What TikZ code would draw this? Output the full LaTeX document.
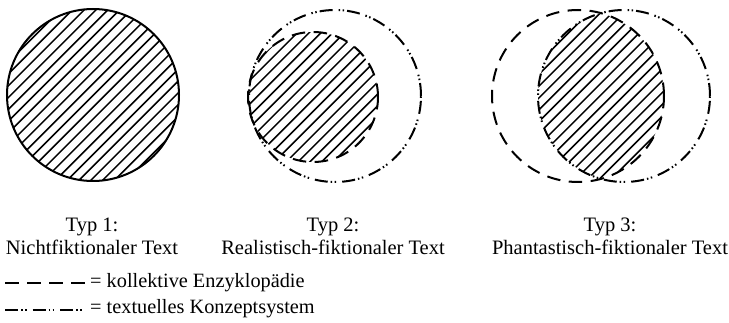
\documentclass[tikz,border=0pt]{standalone}
\usepackage{fontspec}
\setmainfont{Liberation Serif}
\begin{document}
\begin{tikzpicture}[x=1pt,y=-1pt,
  solidline/.style={line width=2pt},
  kollektiv/.style={line width=2pt, dash pattern=on 13.5pt off 8.5pt},
  konzept/.style={line width=2pt, dash pattern=on 13pt off 3pt on 1.5pt off 2.5pt on 1.5pt off 6pt},
  hatchline/.style={line width=1.5pt},
  label/.style={align=center, inner sep=0pt, font=\fontsize{20.5}{23}\selectfont},
  legend/.style={anchor=base west, inner sep=0pt, font=\fontsize{20.3}{23}\selectfont}]
\useasboundingbox (0,0) rectangle (729,323);
\newcommand{\hatchall}{\foreach \i in {0,...,90} {\draw[hatchline] ({\i*11.8-356.5},250) -- ({\i*11.8+143.5},-250);}}
% Typ 1
\begin{scope}
  \clip (93,95) circle[radius=86pt];
  \hatchall
\end{scope}
\draw[solidline] (93,95) circle[radius=86pt];
% Typ 2
\begin{scope}
  \clip (313,97) circle[radius=65pt];
  \hatchall
\end{scope}
\draw[konzept] (335,96) circle[radius=86pt];
\draw[kollektiv] (313,97) circle[radius=65pt];
% Typ 3
\begin{scope}
  \clip (578,96) circle[radius=86pt];
  \clip (624,96) circle[radius=86pt];
  \hatchall
\end{scope}
\draw[kollektiv] (578,96) circle[radius=86pt];
\draw[konzept] (624,96) circle[radius=86pt];
% labels
\node[label] (t1) at (92,236) {Typ 1:\\Nichtfiktionaler Text};
\node[label] (t2) at (333,236) {Typ 2:\\Realistisch-fiktionaler Text};
\node[label] (t3) at (610,236) {Typ 3:\\Phantastisch-fiktionaler Text};
% legend
\coordinate (la1) at (5,283);
\coordinate (lb1) at (87,283);
\draw[kollektiv] (la1) -- (lb1);
\node[legend] (l1) at (90,288) {= kollektive Enzyklopädie};
\coordinate (la2) at (5,310);
\coordinate (lb2) at (87,310);
\draw[konzept] (la2) -- (lb2);
\node[legend] (l2) at (90,314) {= textuelles Konzeptsystem};
\end{tikzpicture}
\end{document}
